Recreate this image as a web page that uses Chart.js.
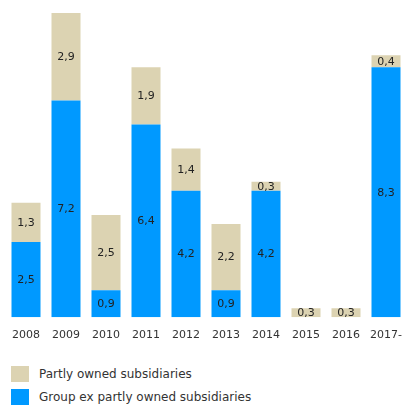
<!DOCTYPE html>
<html>
<head>
<meta charset="utf-8">
<script src="https://cdn.jsdelivr.net/npm/chart.js@4/dist/chart.umd.min.js"></script>
<style>
  html, body { margin: 0; padding: 0; background: #fff; overflow: hidden; }
  body { width: 403px; height: 406px; position: relative; font-family: "DejaVu Sans", Verdana, sans-serif; }
  #wrap { position: absolute; left: 0; top: 0; width: 406px; height: 362px; }
  #legend { position: absolute; left: 11px; top: 366px; }
  .item { display: flex; align-items: center; height: 16px; margin-bottom: 7px; font-size: 12px; color: #333; }
  .box { width: 18px; height: 16px; margin-right: 10px; }
</style>
</head>
<body>
<div id="wrap"><canvas id="myChart"></canvas></div>
<div id="legend"></div>
<script>
// data
const years = ["2008", "2009", "2010", "2011", "2012", "2013", "2014", "2015", "2016", "2017-"];
const groupEx = [2.5, 7.2, 0.9, 6.4, 4.2, 0.9, 4.2, 0, 0, 8.3];
const partly = [1.3, 2.9, 2.5, 1.9, 1.4, 2.2, 0.3, 0.3, 0.3, 0.4];

const blue = "#0099ff";
const beige = "#dcd3b2";

// draws the numbers inside each bar part
const barLabels = {
  id: "barLabels",
  afterDatasetsDraw(chart) {
    const c = chart.ctx;
    c.save();
    c.font = "11px 'DejaVu Sans'";
    c.fillStyle = "#222";
    c.textAlign = "center";
    c.textBaseline = "middle";
    chart.data.datasets.forEach((ds, i) => {
      const meta = chart.getDatasetMeta(i);
      meta.data.forEach((bar, j) => {
        const v = ds.data[j];
        if (!v) return;
        const p = bar.getCenterPoint();
        c.fillText(v.toFixed(1).replace(".", ","), p.x, p.y + 0.5);
      });
    });
    c.restore();
  },
};

const ctx = document.getElementById("myChart");

const chart = new Chart(ctx, {
  type: "bar",
  data: {
    labels: years,
    datasets: [
      {
        label: "Group ex partly owned subsidiaries",
        data: groupEx,
        backgroundColor: blue,
        barPercentage: 0.725,
        categoryPercentage: 1,
      },
      {
        label: "Partly owned subsidiaries",
        data: partly,
        backgroundColor: beige,
        barPercentage: 0.725,
        categoryPercentage: 1,
      },
    ],
  },
  options: {
    responsive: true,
    maintainAspectRatio: false,
    animation: false,
    layout: { padding: { left: 6, right: 0, top: 1, bottom: 9.5 } },
    plugins: {
      legend: { display: false },
      tooltip: { enabled: false },
    },
    scales: {
      x: {
        stacked: true,
        grid: { display: false, drawTicks: false },
        border: { display: false },
        ticks: {
          padding: 11,
          color: "#333",
          font: { family: "DejaVu Sans", size: 11 },
          maxRotation: 0,
          autoSkip: false,
        },
        // don't let the edge labels shrink the plot
        afterFit: (scale) => {
          scale.paddingLeft = 0;
          scale.paddingRight = 0;
        },
      },
      y: {
        stacked: true,
        display: false,
        min: 0,
        max: 10.5,
      },
    },
  },
  plugins: [barLabels],
});

// legend, top dataset first
const legend = document.getElementById("legend");
chart.data.datasets.slice().reverse().forEach((ds) => {
  const item = document.createElement("div");
  item.className = "item";
  item.innerHTML = '<span class="box" style="background:' + ds.backgroundColor + '"></span><span>' + ds.label + "</span>";
  legend.appendChild(item);
});
</script>
</body>
</html>
